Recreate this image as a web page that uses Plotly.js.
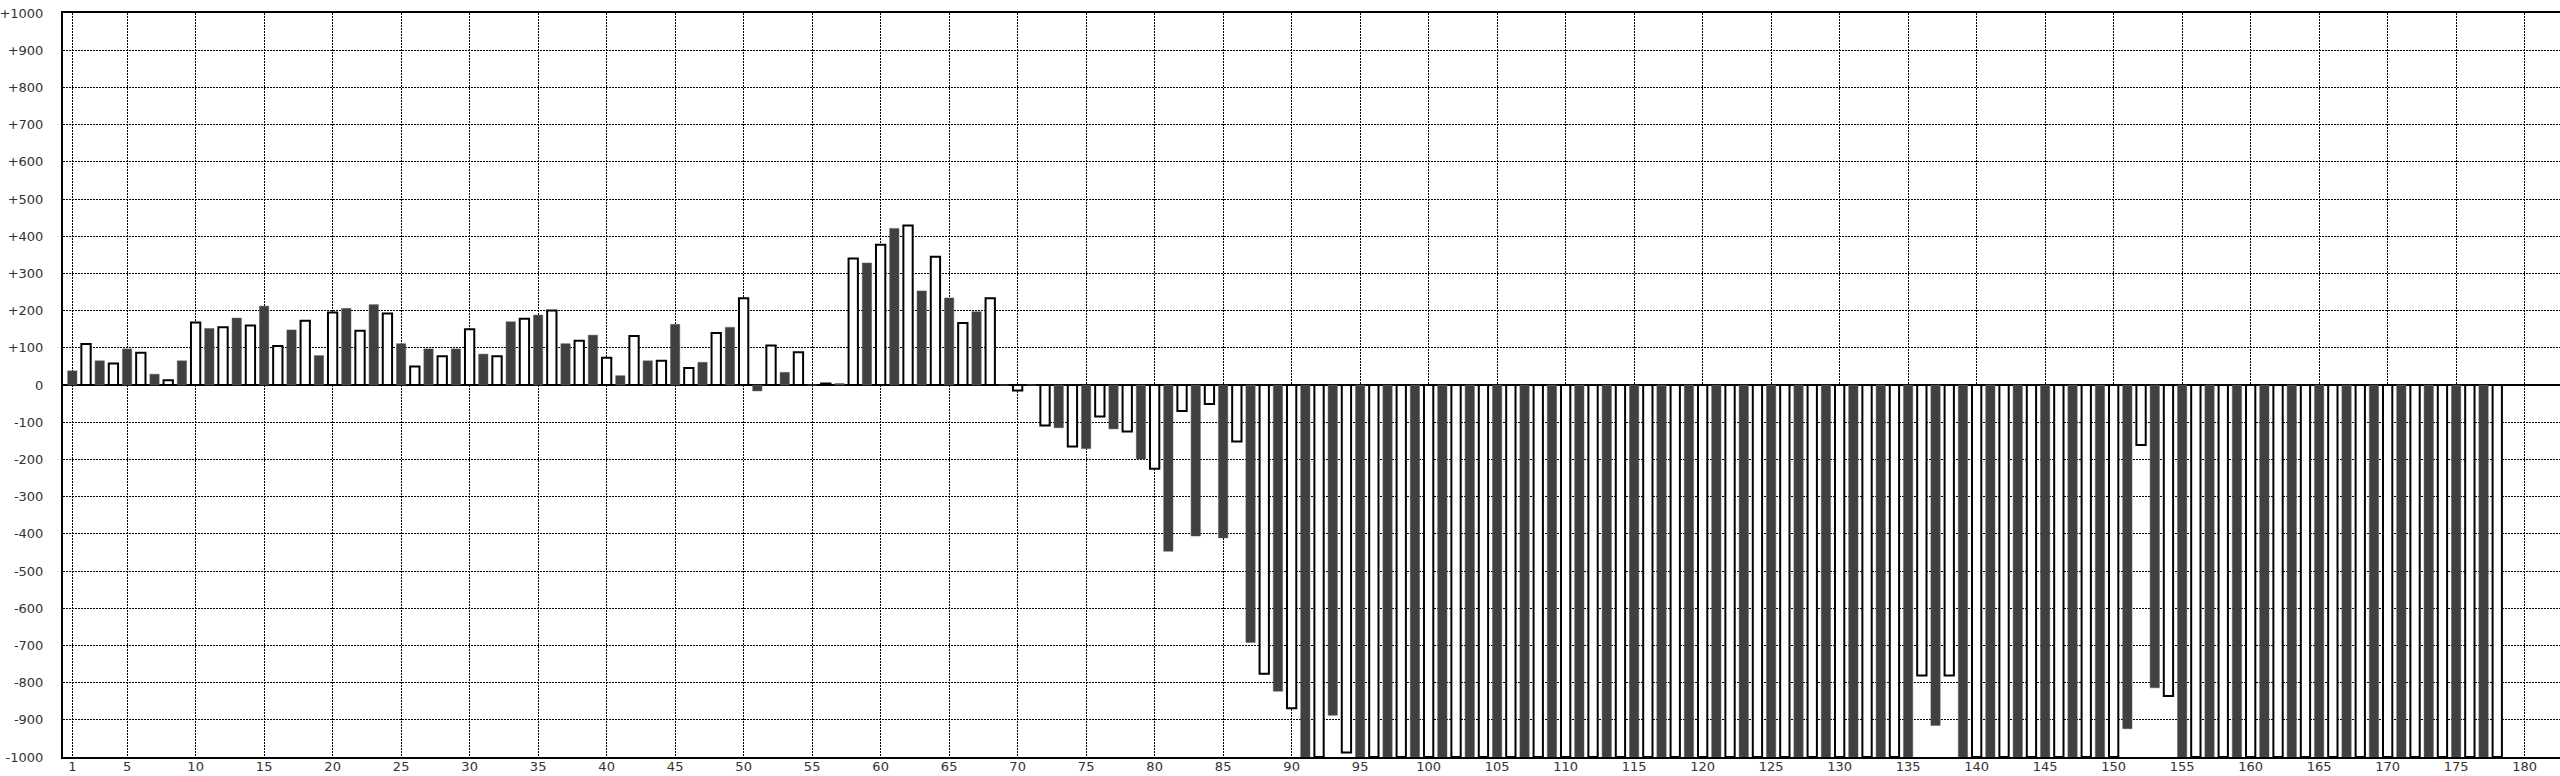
<!DOCTYPE html>
<html>
<head>
<meta charset="utf-8">
<script src="https://cdn.plot.ly/plotly-3.0.1.min.js"></script>
<style>
  html, body { margin: 0; padding: 0; background: #fff; }
  #chart { width: 2560px; height: 776px; }
</style>
</head>
<body>
<div id="chart"></div>
<script>
// Category positions (1..178)
var positions = [
  1,2,3,4,5,6,7,8,9,10,11,12,13,14,15,16,17,18,19,20,
  21,22,23,24,25,26,27,28,29,30,31,32,33,34,35,36,37,38,39,40,
  41,42,43,44,45,46,47,48,49,50,51,52,53,54,55,56,57,58,59,60,
  61,62,63,64,65,66,67,68,69,70,71,72,73,74,75,76,77,78,79,80,
  81,82,83,84,85,86,87,88,89,90,91,92,93,94,95,96,97,98,99,100,
  101,102,103,104,105,106,107,108,109,110,111,112,113,114,115,116,117,118,119,120,
  121,122,123,124,125,126,127,128,129,130,131,132,133,134,135,136,137,138,139,140,
  141,142,143,144,145,146,147,148,149,150,151,152,153,154,155,156,157,158,159,160,
  161,162,163,164,165,166,167,168,169,170,171,172,173,174,175,176,177,178
];

// Bar values (bars reaching the bottom edge are clipped at -1000)
var values = [
  38,110,65,58,97,87,29,13,65,168,152,155,180,160,212,105,148,173,79,195,
  206,146,216,192,111,50,97,77,97,150,83,77,170,178,188,200,111,119,134,73,
  25,132,65,65,163,46,61,140,155,233,-16,106,34,88,0,4,4,340,328,377,
  421,429,253,345,234,167,197,233,0,-15,0,-109,-115,-165,-171,-85,-118,-125,-199,-225,
  -447,-70,-406,-51,-411,-152,-692,-776,-823,-869,-1000,-1000,-888,-988,-1000,-1000,-1000,-1000,-1000,-1000,
  -1000,-1000,-1000,-1000,-1000,-1000,-1000,-1000,-1000,-1000,-1000,-1000,-1000,-1000,-1000,-1000,-1000,-1000,-1000,-1000,
  -1000,-1000,-1000,-1000,-1000,-1000,-1000,-1000,-1000,-1000,-1000,-1000,-1000,-1000,-1000,-781,-915,-781,-1000,-1000,
  -1000,-1000,-1000,-1000,-1000,-1000,-1000,-1000,-1000,-1000,-924,-161,-814,-836,-1000,-1000,-1000,-1000,-1000,-1000,
  -1000,-1000,-1000,-1000,-1000,-1000,-1000,-1000,-1000,-1000,-1000,-1000,-1000,-1000,-1000,-1000,-1000,-1000
];

var xTickVals = [1,5,10,15,20,25,30,35,40,45,50,55,60,65,70,75,80,85,90,95,100,105,110,115,120,125,130,135,140,145,150,155,160,165,170,175,180];
var xTickText = ["1","5","10","15","20","25","30","35","40","45","50","55","60","65","70","75","80","85","90","95","100","105","110","115","120","125","130","135","140","145","150","155","160","165","170","175","180"];

var yTickVals = [1000,900,800,700,600,500,400,300,200,100,0,-100,-200,-300,-400,-500,-600,-700,-800,-900,-1000];
var yTickText = ["+1000","+900","+800","+700","+600","+500","+400","+300","+200","+100","0","-100","-200","-300","-400","-500","-600","-700","-800","-900","-1000"];

// Split into the two alternating series (odd = dark, even = white)
var darkX = [], darkY = [], whiteX = [], whiteY = [];
for (var i = 0; i < positions.length; i++) {
  if (positions[i] % 2 === 1) { darkX.push(positions[i]); darkY.push(values[i]); }
  else { whiteX.push(positions[i]); whiteY.push(values[i]); }
}

var traces = [
  {
    type: "bar", x: darkX, y: darkY, width: 0.68,
    marker: { color: "#404040", line: { color: "#5a5a5a", width: 0.5 } },
    hoverinfo: "x+y", showlegend: false
  },
  {
    type: "bar", x: whiteX, y: whiteY, width: 0.68,
    marker: { color: "#ffffff", line: { color: "#000000", width: 2 } },
    hoverinfo: "x+y", showlegend: false
  }
];

var layout = {
  width: 2560, height: 776,
  margin: { l: 63, r: 0, t: 13, b: 19, pad: 0 },
  paper_bgcolor: "#ffffff", plot_bgcolor: "#ffffff",
  barmode: "overlay",
  showlegend: false,
  xaxis: {
    range: [0.32, 182.58],
    tickmode: "array", tickvals: xTickVals, ticktext: xTickText,
    tickfont: { family: "DejaVu Sans", size: 13, color: "#333" },
    ticks: "", ticklabelstandoff: -4,
    showgrid: true, gridcolor: "#000000", gridwidth: 1, griddash: "2px,1px",
    zeroline: false,
    showline: true, linecolor: "#000000", linewidth: 2, mirror: true
  },
  yaxis: {
    range: [-1000, 1000],
    tickmode: "array", tickvals: yTickVals, ticktext: yTickText,
    tickfont: { family: "DejaVu Sans", size: 13, color: "#333" },
    ticks: "", ticklabelstandoff: 15,
    showgrid: true, gridcolor: "#000000", gridwidth: 1, griddash: "2px,1px",
    zeroline: true, zerolinecolor: "#000000", zerolinewidth: 2,
    showline: true, linecolor: "#000000", linewidth: 2, mirror: false
  }
};

Plotly.newPlot("chart", traces, layout, { staticPlot: true, displayModeBar: false });
</script>
</body>
</html>
